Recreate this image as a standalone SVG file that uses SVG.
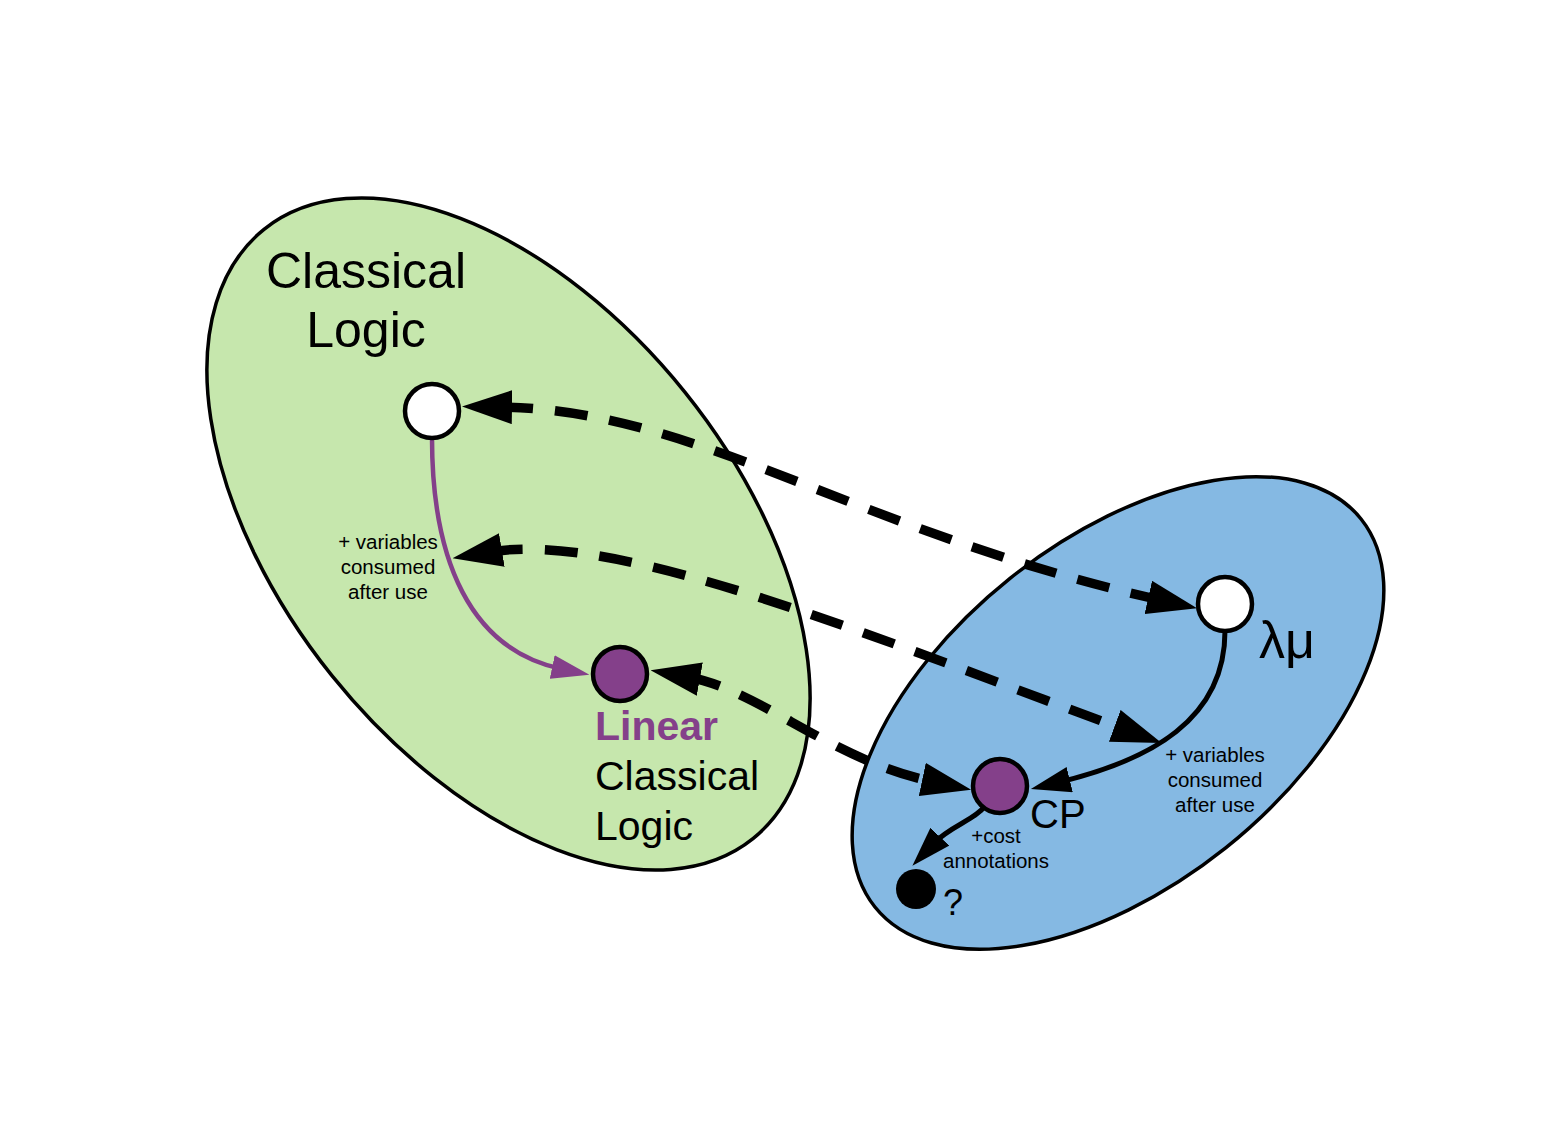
<svg xmlns="http://www.w3.org/2000/svg" width="1560" height="1134" viewBox="0 0 1560 1134">
<style>
.t{font-family:"Liberation Sans",Arial,sans-serif;fill:#000}
.s{font-size:20.5px}
.region{stroke:#000;stroke-width:3.5}
.dash{fill:none;stroke:#000;stroke-width:9.5;stroke-dasharray:33 22}
.solid{fill:none;stroke:#000;stroke-width:5}
.psolid{fill:none;stroke:#84408a;stroke-width:4.5}
.node{stroke:#000;stroke-width:4.5}
</style>
<defs>
<marker id="bigArrow" viewBox="0 0 50 34" refX="12" refY="17" markerWidth="50" markerHeight="34" markerUnits="userSpaceOnUse" orient="auto-start-reverse">
<path d="M0,0 L50,17 L0,34 z" fill="#000"/>
</marker>
<marker id="blackArrow" viewBox="0 0 40 26" refX="10" refY="13" markerWidth="40" markerHeight="26" markerUnits="userSpaceOnUse" orient="auto">
<path d="M0,0 L40,13 L0,26 z" fill="#000"/>
</marker>
<marker id="purpleArrow" viewBox="0 0 38 24" refX="10" refY="12" markerWidth="38" markerHeight="24" markerUnits="userSpaceOnUse" orient="auto">
<path d="M0,0 L38,12 L0,24 z" fill="#84408a"/>
</marker>
</defs>
<g id="classical-region">
<ellipse class="region" cx="508.5" cy="534" rx="390.6" ry="226.4" fill="#c6e7ad" transform="rotate(51.25 508.5 534)"/>
<text class="t" x="366" y="288" font-size="50" text-anchor="middle">Classical</text>
<text class="t" x="366" y="347" font-size="50" text-anchor="middle">Logic</text>
</g>
<g id="lambdamu-region">
<ellipse class="region" cx="1118" cy="713" rx="311" ry="172.6" fill="#85b9e3" transform="rotate(-38.6 1118 713)"/>
</g>
<g id="connectors">
<path class="dash" d="M500 407 C700 410, 850 530, 1160 600" marker-start="url(#bigArrow)" marker-end="url(#bigArrow)"/>
<path class="dash" d="M490 552 C620 530, 880 640, 1126 730" marker-start="url(#bigArrow)" marker-end="url(#bigArrow)"/>
<path class="dash" d="M688 677 C760 690, 830 760, 934 782" marker-start="url(#bigArrow)" marker-end="url(#bigArrow)"/>
<path class="psolid" d="M432 438 C432 560, 470 650, 562 669" marker-end="url(#purpleArrow)"/>
<path class="solid" d="M1225 631 C1225 720, 1150 760, 1060 782" marker-end="url(#blackArrow)"/>
<path class="solid" d="M985 806 C975 820, 950 826, 933 844" marker-end="url(#blackArrow)"/>
<text class="t s" x="388" y="549" text-anchor="middle">+ variables</text>
<text class="t s" x="388" y="574" text-anchor="middle">consumed</text>
<text class="t s" x="388" y="599" text-anchor="middle">after use</text>
<text class="t s" x="1215" y="762" text-anchor="middle">+ variables</text>
<text class="t s" x="1215" y="787" text-anchor="middle">consumed</text>
<text class="t s" x="1215" y="812" text-anchor="middle">after use</text>
<text class="t s" x="996" y="843" text-anchor="middle">+cost</text>
<text class="t s" x="996" y="868" text-anchor="middle">annotations</text>
</g>
<g id="node-classical">
<circle class="node" cx="432" cy="411" r="27" fill="#fff"/>
</g>
<g id="node-linear">
<circle class="node" cx="620" cy="674" r="27" fill="#84408a"/>
<text class="t" x="595" y="740" font-size="41" font-weight="bold" style="fill:#84408a">Linear</text>
<text class="t" x="595" y="790" font-size="41">Classical</text>
<text class="t" x="595" y="840" font-size="41">Logic</text>
</g>
<g id="node-lambdamu">
<circle class="node" cx="1225" cy="604" r="27" fill="#fff"/>
<text class="t" x="1259" y="658" font-size="52">λμ</text>
</g>
<g id="node-cp">
<circle class="node" cx="1000" cy="786" r="27" fill="#84408a"/>
<text class="t" x="1030" y="828" font-size="40">CP</text>
</g>
<g id="node-unknown">
<circle cx="916" cy="889" r="20" fill="#000"/>
<text class="t" x="943" y="915" font-size="36">?</text>
</g>
</svg>
